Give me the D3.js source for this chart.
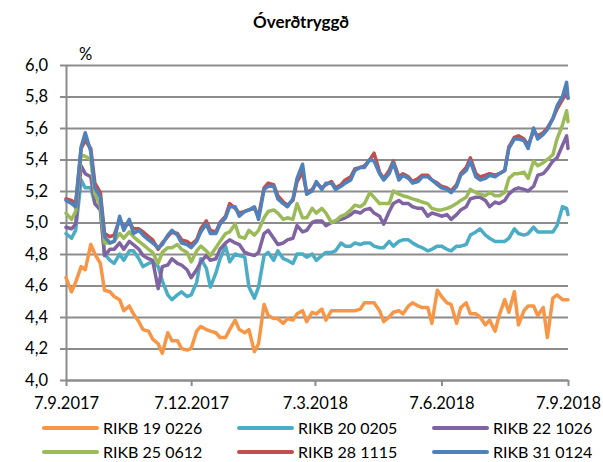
<!DOCTYPE html>
<head>
  <meta charset="utf-8">
  <script src="https://d3js.org/d3.v7.min.js"></script>
  <style>
    body {
      margin: 0;
      background: #fff;
    }

    text {
      font-family: Lato, "Open Sans", sans-serif;
      fill: #000;
    }

    .axis path,
    .axis line,
    .grid line {
      fill: none;
      stroke: #8c8c8c;
      stroke-width: 2;
    }

    .grid path {
      display: none;
    }

    .axis text {
      font-size: 16.5px;
    }

    .series {
      fill: none;
      stroke-width: 3.5;
      stroke-linejoin: round;
      stroke-linecap: round;
    }
  </style>
</head>

<body>
  <script>
    var dates = [
      "2017-09-07", "2017-09-11", "2017-09-14", "2017-09-18", "2017-09-21", "2017-09-25", "2017-09-28",
      "2017-10-02", "2017-10-05", "2017-10-09", "2017-10-12", "2017-10-16", "2017-10-19", "2017-10-23", "2017-10-26", "2017-10-30",
      "2017-11-02", "2017-11-06", "2017-11-09", "2017-11-13", "2017-11-16", "2017-11-20", "2017-11-23", "2017-11-27", "2017-11-30",
      "2017-12-04", "2017-12-07", "2017-12-11", "2017-12-14", "2017-12-18", "2017-12-21", "2017-12-25", "2017-12-28",
      "2018-01-01", "2018-01-04", "2018-01-08", "2018-01-11", "2018-01-15", "2018-01-18", "2018-01-22", "2018-01-25", "2018-01-29",
      "2018-02-01", "2018-02-05", "2018-02-08", "2018-02-12", "2018-02-15", "2018-02-19", "2018-02-22", "2018-02-26",
      "2018-03-01", "2018-03-05", "2018-03-08", "2018-03-12", "2018-03-15", "2018-03-19", "2018-03-22", "2018-03-26", "2018-03-29",
      "2018-04-02", "2018-04-05", "2018-04-09", "2018-04-12", "2018-04-16", "2018-04-19", "2018-04-23", "2018-04-26", "2018-04-30",
      "2018-05-03", "2018-05-07", "2018-05-10", "2018-05-14", "2018-05-17", "2018-05-21", "2018-05-24", "2018-05-28", "2018-05-31",
      "2018-06-04", "2018-06-07", "2018-06-11", "2018-06-14", "2018-06-18", "2018-06-21", "2018-06-25", "2018-06-28",
      "2018-07-02", "2018-07-05", "2018-07-09", "2018-07-12", "2018-07-16", "2018-07-19", "2018-07-23", "2018-07-26", "2018-07-30",
      "2018-08-02", "2018-08-06", "2018-08-09", "2018-08-13", "2018-08-16", "2018-08-20", "2018-08-23", "2018-08-27", "2018-08-30",
      "2018-09-03", "2018-09-06", "2018-09-07"
    ];

    var rikb190226 = [
      4.65, 4.56, 4.62, 4.72, 4.70, 4.86, 4.80, 4.74, 4.57, 4.56,
      4.53, 4.51, 4.44, 4.47, 4.42, 4.37, 4.32, 4.31, 4.26, 4.23,
      4.17, 4.30, 4.25, 4.25, 4.20, 4.19, 4.20, 4.31, 4.34, 4.32,
      4.31, 4.30, 4.27, 4.27, 4.32, 4.38, 4.32, 4.30, 4.32, 4.18,
      4.23, 4.48, 4.41, 4.39, 4.39, 4.36, 4.39, 4.38, 4.42, 4.44,
      4.37, 4.43, 4.42, 4.45, 4.38, 4.44, 4.44, 4.44, 4.44, 4.44,
      4.44, 4.45, 4.49, 4.49, 4.49, 4.44, 4.37, 4.40, 4.43, 4.44,
      4.42, 4.47, 4.49, 4.47, 4.46, 4.46, 4.36, 4.57, 4.53, 4.49,
      4.48, 4.36, 4.46, 4.49, 4.42, 4.42, 4.40, 4.35, 4.38, 4.31,
      4.41, 4.51, 4.43, 4.56, 4.35, 4.44, 4.47, 4.47, 4.41, 4.46,
      4.27, 4.52, 4.54, 4.51, 4.51, 4.51
    ];
    var rikb200205 = [
      4.93, 4.90, 4.95, 5.27, 5.22, 5.22, 5.12, 5.08, 4.80, 4.76,
      4.74, 4.80, 4.76, 4.82, 4.82, 4.77, 4.72, 4.74, 4.75, 4.72,
      4.63, 4.54, 4.51, 4.54, 4.56, 4.53, 4.54, 4.62, 4.77, 4.71,
      4.59, 4.68, 4.77, 4.85, 4.75, 4.80, 4.79, 4.78, 4.59, 4.52,
      4.59, 4.79, 4.81, 4.76, 4.82, 4.77, 4.76, 4.74, 4.80, 4.80,
      4.78, 4.80, 4.76, 4.79, 4.81, 4.81, 4.82, 4.87, 4.85, 4.85,
      4.87, 4.86, 4.87, 4.87, 4.85, 4.84, 4.84, 4.88, 4.85, 4.88,
      4.89, 4.89, 4.87, 4.85, 4.84, 4.82, 4.83, 4.85, 4.85, 4.83,
      4.82, 4.85, 4.85, 4.86, 4.92, 4.94, 4.96, 4.92, 4.90, 4.88,
      4.88, 4.88, 4.90, 4.96, 4.93, 4.92, 4.93, 4.97, 4.94, 4.94,
      4.94, 4.94, 4.98, 5.10, 5.09, 5.05
    ];
    var rikb221026 = [
      4.97, 4.96, 4.99, 5.36, 5.31, 5.29, 5.12, 5.08, 4.79, 4.83,
      4.83, 4.87, 4.83, 4.88, 4.86, 4.83, 4.79, 4.77, 4.76, 4.58,
      4.72, 4.73, 4.77, 4.74, 4.73, 4.70, 4.65, 4.70, 4.75, 4.79,
      4.76, 4.77, 4.83, 4.87, 4.89, 4.87, 4.86, 4.81, 4.80, 4.79,
      4.81, 4.93, 4.95, 4.90, 4.86, 4.87, 4.89, 4.90, 4.98, 4.94,
      4.95, 5.00, 5.01, 5.01, 4.98, 5.00, 5.01, 5.02, 5.03, 5.05,
      5.07, 5.06, 5.08, 5.09, 5.06, 5.04, 4.99, 5.07, 5.12, 5.14,
      5.12, 5.12, 5.10, 5.09, 5.09, 5.04, 5.06, 5.05, 5.04, 5.05,
      5.02, 5.05, 5.08, 5.10, 5.15, 5.16, 5.16, 5.14, 5.10, 5.13,
      5.12, 5.14, 5.18, 5.21, 5.22, 5.21, 5.20, 5.23, 5.30, 5.31,
      5.34, 5.39, 5.41, 5.49, 5.55, 5.47
    ];
    var rikb250612 = [
      5.06, 5.02, 5.07, 5.43, 5.42, 5.40, 5.18, 5.11, 4.87, 4.87,
      4.88, 4.93, 4.90, 4.94, 4.91, 4.88, 4.86, 4.83, 4.81, 4.74,
      4.81, 4.84, 4.84, 4.86, 4.83, 4.81, 4.75, 4.82, 4.85, 4.82,
      4.79, 4.84, 4.88, 4.93, 4.94, 4.99, 4.91, 4.90, 4.95, 4.92,
      4.95, 5.03, 5.07, 5.08, 5.06, 5.02, 5.03, 5.02, 5.12, 5.03,
      5.03, 5.09, 5.06, 5.09, 5.06, 5.00, 5.01, 5.04, 5.05, 5.08,
      5.11, 5.10, 5.12, 5.19, 5.16, 5.12, 5.12, 5.12, 5.20, 5.18,
      5.17, 5.16, 5.15, 5.14, 5.13, 5.12, 5.09, 5.08, 5.08, 5.09,
      5.10, 5.12, 5.14, 5.16, 5.21, 5.19, 5.18, 5.17, 5.19, 5.17,
      5.17, 5.19, 5.28, 5.31, 5.31, 5.32, 5.28, 5.39, 5.36, 5.38,
      5.40, 5.43, 5.53, 5.62, 5.71, 5.64
    ];
    var rikb281115 = [
      5.15, 5.14, 5.12, 5.47, 5.52, 5.47, 5.25, 5.19, 4.93, 4.91,
      4.92, 5.02, 4.97, 5.00, 4.96, 4.96, 4.94, 4.91, 4.89, 4.83,
      4.87, 4.91, 4.94, 4.93, 4.89, 4.88, 4.86, 4.89, 4.96, 5.01,
      4.95, 4.94, 5.00, 5.04, 5.12, 5.09, 5.06, 5.07, 5.08, 5.09,
      5.04, 5.22, 5.25, 5.24, 5.17, 5.13, 5.11, 5.14, 5.26, 5.32,
      5.19, 5.21, 5.25, 5.22, 5.24, 5.26, 5.22, 5.24, 5.27, 5.29,
      5.34, 5.35, 5.36, 5.40, 5.44, 5.32, 5.28, 5.33, 5.39, 5.29,
      5.31, 5.29, 5.26, 5.28, 5.30, 5.30, 5.27, 5.25, 5.23, 5.22,
      5.20, 5.24, 5.31, 5.35, 5.41, 5.31, 5.29, 5.30, 5.31, 5.30,
      5.31, 5.33, 5.48, 5.54, 5.55, 5.53, 5.49, 5.58, 5.55, 5.57,
      5.60, 5.66, 5.72, 5.78, 5.82, 5.79
    ];
    var rikb310124 = [
      5.14, 5.12, 5.10, 5.48, 5.57, 5.45, 5.22, 5.16, 4.91, 4.87,
      4.88, 5.04, 4.95, 5.02, 4.93, 4.95, 4.92, 4.89, 4.87, 4.84,
      4.86, 4.92, 4.95, 4.92, 4.87, 4.86, 4.84, 4.88, 4.94, 4.99,
      4.93, 4.93, 4.99, 5.03, 5.10, 5.10, 5.04, 5.07, 5.08, 5.10,
      5.02, 5.21, 5.23, 5.23, 5.15, 5.12, 5.10, 5.15, 5.28, 5.37,
      5.18, 5.20, 5.26, 5.21, 5.25, 5.25, 5.21, 5.23, 5.25, 5.27,
      5.33, 5.35, 5.35, 5.40, 5.39, 5.31, 5.27, 5.31, 5.38, 5.27,
      5.30, 5.28, 5.25, 5.26, 5.29, 5.29, 5.27, 5.24, 5.22, 5.21,
      5.19, 5.23, 5.30, 5.33, 5.39, 5.29, 5.27, 5.28, 5.30, 5.29,
      5.31, 5.33, 5.47, 5.53, 5.53, 5.52, 5.47, 5.60, 5.53, 5.56,
      5.59, 5.66, 5.74, 5.80, 5.89, 5.79
    ];

    var seriesNames = ["RIKB 19 0226", "RIKB 20 0205", "RIKB 22 1026", "RIKB 25 0612", "RIKB 28 1115", "RIKB 31 0124"];
    var seriesValues = [rikb190226, rikb200205, rikb221026, rikb250612, rikb281115, rikb310124];
    var seriesColors = ["#f79646", "#4bacc6", "#8064a2", "#9bbb59", "#c0504d", "#4f81bd"];

    var yTicks = [4.0, 4.2, 4.4, 4.6, 4.8, 5.0, 5.2, 5.4, 5.6, 5.8, 6.0];
    var xTicks = ["2017-09-07", "2017-12-07", "2018-03-07", "2018-06-07", "2018-09-07"];

    var W = 603, H = 462;
    var margin = { top: 65, right: 35, bottom: 82, left: 66 },
      width = W - margin.left - margin.right,
      height = H - margin.top - margin.bottom;

    var parse = d3.timeParse("%Y-%m-%d");
    var parsedDates = dates.map(parse);

    var svg = d3.select("body").append("svg")
      .attr("width", W)
      .attr("height", H);

    var g = svg.append("g")
      .attr("transform", "translate(" + margin.left + "," + margin.top + ")");

    var x = d3.scaleTime()
      .domain([parse("2017-09-07"), parse("2018-09-07")])
      .range([0, width]);

    var y = d3.scaleLinear()
      .domain([4, 6])
      .range([height, 0]);

    // horizontal gridlines
    g.append("g")
      .attr("class", "grid")
      .call(d3.axisLeft(y).tickValues(yTicks).tickSize(-width).tickFormat(""));

    g.append("g")
      .attr("class", "y axis")
      .call(d3.axisLeft(y)
        .tickValues(yTicks)
        .tickSize(6)
        .tickSizeOuter(0)
        .tickPadding(12)
        .tickFormat(function (d) { return d.toFixed(1).replace(".", ","); }));

    g.append("g")
      .attr("class", "x axis")
      .attr("transform", "translate(0," + height + ")")
      .call(d3.axisBottom(x)
        .tickValues(xTicks.map(parse))
        .tickSize(6)
        .tickSizeOuter(0)
        .tickPadding(11)
        .tickFormat(function (d) {
          return d.getDate() + "." + (d.getMonth() + 1) + "." + d.getFullYear();
        }));

    var line = d3.line()
      .x(function (d) { return x(d.date); })
      .y(function (d) { return y(d.value); });

    seriesValues.forEach(function (vals, i) {
      var pts = vals.map(function (v, j) { return { date: parsedDates[j], value: v }; });
      g.append("path")
        .datum(pts)
        .attr("class", "series")
        .attr("stroke", seriesColors[i])
        .attr("d", line);
    });

    // title and unit
    svg.append("text")
      .attr("x", 301)
      .attr("y", 28)
      .attr("text-anchor", "middle")
      .style("font-size", "17px")
      .style("font-weight", "bold")
      .text("Óverðtryggð");

    svg.append("text")
      .attr("x", 79)
      .attr("y", 60)
      .style("font-size", "16.5px")
      .text("%");

    // legend
    var legendCols = [43, 238, 433],
      legendRows = [428, 452];

    var legend = svg.append("g").attr("class", "legend");
    seriesNames.forEach(function (name, i) {
      var lx = legendCols[i % 3],
        ly = legendRows[Math.floor(i / 3)];
      legend.append("line")
        .attr("x1", lx + 1)
        .attr("x2", lx + 54)
        .attr("y1", ly)
        .attr("y2", ly)
        .attr("stroke", seriesColors[i])
        .attr("stroke-width", 4)
        .attr("stroke-linecap", "round");
      legend.append("text")
        .attr("x", lx + 60)
        .attr("y", ly)
        .attr("dy", "0.36em")
        .style("font-size", "16px")
        .text(name);
    });
  </script>
</body>
